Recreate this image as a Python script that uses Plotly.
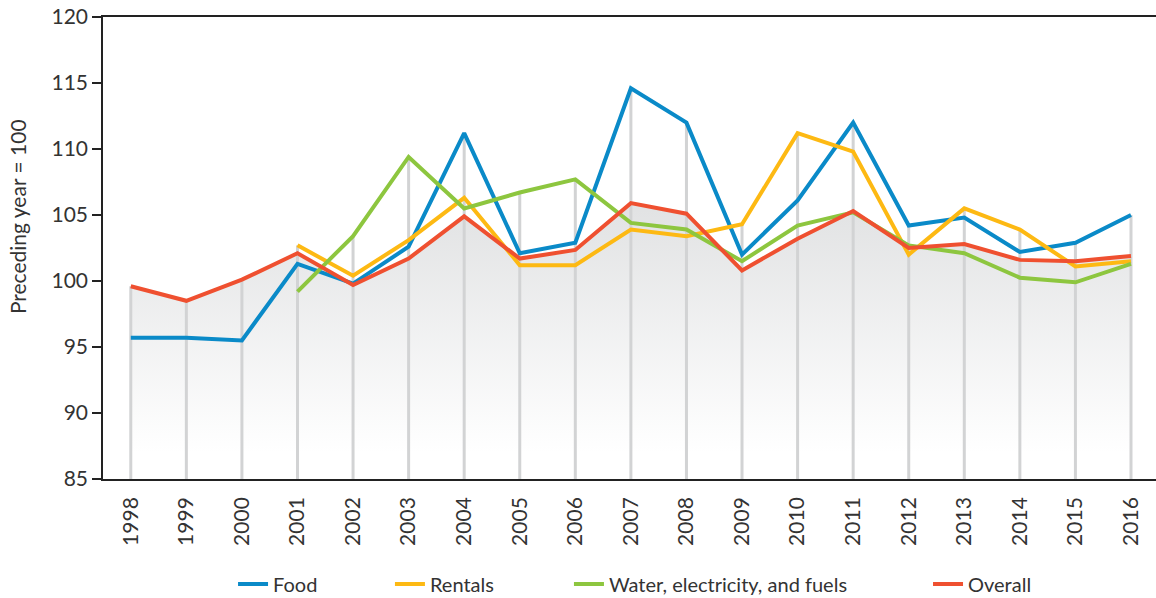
import plotly.graph_objects as go

years = [str(y) for y in range(1998, 2017)]

food = [95.7, 95.7, 95.5, 101.3, 99.8, 102.6, 111.2, 102.1, 102.9, 114.6,
        112.0, 102.0, 106.1, 112.0, 104.2, 104.8, 102.2, 102.9, 105.0]
rentals = [None, None, None, 102.7, 100.4, 103.1, 106.3, 101.2, 101.2, 103.9,
           103.4, 104.3, 111.2, 109.8, 102.0, 105.5, 103.9, 101.1, 101.5]
water = [None, None, None, 99.2, 103.4, 109.4, 105.5, 106.7, 107.7, 104.4,
         103.9, 101.5, 104.2, 105.2, 102.7, 102.1, 100.25, 99.9, 101.3]
overall = [99.6, 98.5, 100.1, 102.1, 99.7, 101.7, 104.9, 101.7, 102.35, 105.9,
           105.1, 100.8, 103.2, 105.3, 102.5, 102.8, 101.6, 101.5, 101.9]

names = ["Food", "Rentals", "Water, electricity, and fuels", "Overall"]
colors = ["#0a8ac8", "#fdb913", "#8dc63f", "#ef5030"]
series = [food, rentals, water, overall]

FONT = "Lato, 'Open Sans', sans-serif"
Y_MIN = 85

fig = go.Figure()

# grey gradient area under the overall index
fig.add_trace(go.Scatter(
    x=years, y=overall, mode="none", fill="tozeroy",
    fillgradient=dict(type="vertical", start=87, stop=106,
                      colorscale=[[0, "rgba(255,255,255,1)"], [1, "#e1e2e3"]]),
    showlegend=False, hoverinfo="skip"))

# vertical drop lines up to the highest value of each year
vx, vy = [], []
for i, yr in enumerate(years):
    top = max(v[i] for v in series if v[i] is not None)
    vx += [yr, yr, None]
    vy += [Y_MIN, top, None]
fig.add_trace(go.Scatter(x=vx, y=vy, mode="lines",
                         line=dict(color="#d2d3d4", width=3),
                         showlegend=False, hoverinfo="skip"))

legend_x = [0.1235, 0.2725, 0.4425, 0.7835]
for k, (name, vals, col) in enumerate(zip(names, series, colors)):
    lg = "legend" if k == 0 else f"legend{k + 1}"
    fig.add_trace(go.Scatter(x=years, y=vals, mode="lines", name=name,
                             line=dict(color=col, width=4),
                             legend=lg))

# legends placed in container coords so they don't grow the bottom margin
leg_common = dict(orientation="h", yref="container", y=0.0234,
                  yanchor="middle", xanchor="left",
                  font=dict(family=FONT, size=20, color="#333333"),
                  bgcolor="rgba(0,0,0,0)")
fig.update_layout(
    width=1156, height=598,
    margin=dict(l=103, r=0, t=17, b=119),
    paper_bgcolor="white", plot_bgcolor="white",
    font=dict(family=FONT, color="#333333"),
    legend=dict(x=legend_x[0], **leg_common),
    legend2=dict(x=legend_x[1], **leg_common),
    legend3=dict(x=legend_x[2], **leg_common),
    legend4=dict(x=legend_x[3], **leg_common),
    xaxis=dict(type="category", range=[-0.5, 18.45], showgrid=False,
               automargin=False,
               showline=True, linecolor="#222222", linewidth=1.5, mirror=True,
               ticks="", tickangle=-90, ticklabelstandoff=8,
               tickfont=dict(family=FONT, size=21, color="#333333")),
    yaxis=dict(range=[85, 120], dtick=5, showgrid=False, zeroline=False,
               automargin=False,
               showline=True, linecolor="#222222", linewidth=1.5,
               ticks="outside", ticklen=9, tickwidth=1.5, tickcolor="#222222",
               tickfont=dict(family=FONT, size=21, color="#333333")),
    annotations=[dict(text="Preceding year = 100", textangle=-90,
                      xref="paper", yref="paper", x=-0.0817, y=0.569,
                      xanchor="center", yanchor="middle", showarrow=False,
                      font=dict(family=FONT, size=21, color="#333333"))],
    hovermode=False,
)

# page body has a default 8px margin; drop it so the figure sits at 0,0
fig.write_html("out.html",
               config={"displayModeBar": False},
               post_script="document.body.style.margin='0';"
                           "document.body.style.overflow='hidden';")
